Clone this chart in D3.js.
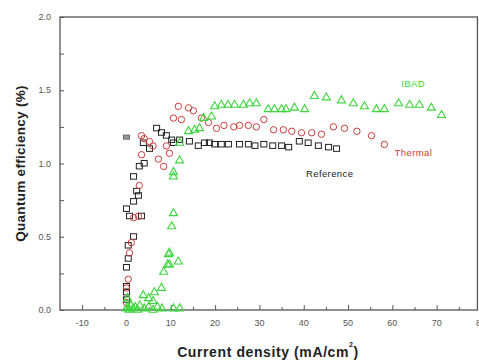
<!DOCTYPE html>
<html>
<head>
<meta charset="utf-8">
<script src="https://cdn.jsdelivr.net/npm/d3@7"></script>
<style>
  body { margin: 0; background: #fff; }
  svg { display: block; }
</style>
</head>
<body>
<script>
// Current density (mA/cm2) and quantum efficiency (%)
const refX = [0, 0, 0, 0, 0.4, 0.4, 1.6, 0.7, 3.4, 0, 1.6, 2.7, 2.3, 1.6, 2.9, 4, 5.2, 3.8, 6.8, 7.9, 9, 10.2,
  10.6, 12, 14.2, 16.2, 17.6, 18.7, 19.9, 21.4, 23, 25.5, 27.5, 29, 31, 33, 35, 36.6, 39, 41, 43.3, 45.6, 47.4];
const refY = [0.07, 0.12, 0.16, 0.29, 0.35, 0.44, 0.5, 0.64, 0.64, 0.69, 0.74, 0.78, 0.81, 0.91, 0.98, 1.0, 1.1, 1.14, 1.24, 1.21, 1.19, 1.16,
  1.14, 1.16, 1.15, 1.12, 1.14, 1.14, 1.13, 1.13, 1.13, 1.13, 1.13, 1.12, 1.13, 1.12, 1.12, 1.11, 1.15, 1.14, 1.12, 1.11, 1.10];
const refDouble = [0, 1.18];

const thermX = [0, 0, 0.4, 0.7, 1.1, 1.6, 2.7, 2.9, 3.4, 3.4, 4, 5.2, 6, 7.2, 8.4, 9, 9.7, 10.6, 11.7, 12.4, 14, 15.1,
  16.9, 18.5, 20.3, 22, 24.2, 25.5, 27.5, 29.3, 31, 33.2, 35.4, 37.3, 39.5, 41.8, 44, 46.7, 49.2, 52, 55.3, 58.2];
const thermY = [0.05, 0.15, 0.21, 0.39, 0.46, 0.63, 0.64, 0.85, 1.06, 1.19, 1.17, 1.15, 1.12, 1.03, 0.98, 1.12, 1.07, 1.31, 1.39, 1.30, 1.38, 1.36,
  1.31, 1.28, 1.24, 1.26, 1.25, 1.26, 1.26, 1.25, 1.30, 1.23, 1.23, 1.22, 1.21, 1.21, 1.20, 1.25, 1.24, 1.22, 1.19, 1.13];

const ibadX = [0, 0.3, 0.6, 1, 1.5, 2, 2.5, 3, 4, 5, 6, 7, 8, 0.2, 3.8, 5, 6.3, 7.9, 6, 10.6, 12, 8.4, 9.3, 9.7, 11.7,
  9.5, 9.7, 10.2, 10.6, 10.6, 10.6, 12, 12, 14, 15.4, 16.5, 17.4, 19.2, 19.9, 21.4, 22.9, 24.4, 26.4, 27.8, 29.3,
  32, 33.4, 35, 36, 37.9, 40.2, 42.4, 45.1, 48.5, 51.2, 53.7, 56.4, 58.2, 61.4, 63.9, 66.1, 68.8, 71.1];
const ibadY = [0.01, 0.02, 0.0, 0.03, 0.01, 0.02, 0.0, 0.03, 0.01, 0.02, 0.0, 0.02, 0.01, 0.08, 0.1, 0.08, 0.12, 0.15, 0.06, 0.01, 0.01, 0.26, 0.31, 0.39, 0.33,
  0.38, 0.31, 0.57, 0.66, 0.91, 0.94, 1.02, 1.14, 1.22, 1.23, 1.24, 1.31, 1.32, 1.39, 1.40, 1.40, 1.40, 1.40, 1.41, 1.41,
  1.37, 1.37, 1.37, 1.37, 1.38, 1.37, 1.46, 1.45, 1.43, 1.41, 1.39, 1.37, 1.37, 1.41, 1.40, 1.40, 1.38, 1.33];

const xTicks = [-10, 0, 10, 20, 30, 40, 50, 60, 70, 80];
const yTicks = [0, 0.5, 1.0, 1.5, 2.0];
const yTickLabels = ["0.0", "0.5", "1.0", "1.5", "2.0"];

const width = 479;
const height = 363;
const fontFamily = "Arial, \"Liberation Sans\", sans-serif";

const svg = d3.select("body").append("svg")
    .attr("width", width)
    .attr("height", height);

const x = d3.scaleLinear().domain([-15, 80]).range([60, 481]);
const y = d3.scaleLinear().domain([0, 2]).range([310, 17]);

// frame
svg.append("rect")
    .attr("x", x(-15))
    .attr("y", y(2))
    .attr("width", x(79.2) - x(-15))
    .attr("height", y(0) - y(2))
    .attr("fill", "none")
    .attr("stroke", "#555")
    .attr("stroke-width", 1.3);

// inward ticks
const xAxis = svg.append("g")
    .attr("transform", `translate(0,${y(0)})`)
    .call(d3.axisBottom(x).tickValues(d3.range(-10, 80, 5)).tickSize(-4).tickFormat(""));
xAxis.select(".domain").remove();
xAxis.selectAll("line").attr("stroke", "#555")
    .attr("y2", d => d % 10 === 0 ? -5 : -3);

svg.selectAll("text.xtick")
    .data(xTicks)
    .enter()
    .append("text")
    .classed("xtick", true)
    .attr("x", d => x(d))
    .attr("y", y(0) + 16)
    .attr("text-anchor", "middle")
    .attr("font-family", fontFamily)
    .attr("font-size", 9)
    .attr("fill", "#555")
    .text(d => d);

const yAxis = svg.append("g")
    .attr("transform", `translate(${x(-15)},0)`)
    .call(d3.axisLeft(y).tickValues(d3.range(0, 2.01, 0.25)).tickSize(-4).tickFormat(""));
yAxis.select(".domain").remove();
yAxis.selectAll("line").attr("stroke", "#555");

svg.selectAll("text.ytick")
    .data(yTicks)
    .enter()
    .append("text")
    .classed("ytick", true)
    .attr("x", 51)
    .attr("y", d => y(d) + 3)
    .attr("text-anchor", "end")
    .attr("font-family", fontFamily)
    .attr("font-size", 9)
    .attr("fill", "#555")
    .text((d, i) => yTickLabels[i]);

// axis titles
svg.append("text")
    .attr("transform", `translate(25,${(y(0) + y(2)) / 2}) rotate(-90)`)
    .attr("text-anchor", "middle")
    .attr("font-family", fontFamily)
    .attr("font-size", 13.5)
    .attr("font-weight", "bold")
    .attr("letter-spacing", 0.3)
    .attr("fill", "#222")
    .text("Quantum efficiency (%)");

const xTitle = svg.append("text")
    .attr("x", 268)
    .attr("y", 357)
    .attr("text-anchor", "middle")
    .attr("font-family", fontFamily)
    .attr("font-size", 14)
    .attr("font-weight", "bold")
    .attr("letter-spacing", 0.6)
    .attr("fill", "#222");
xTitle.append("tspan").text("Current density (mA/cm");
xTitle.append("tspan").attr("dy", -10).attr("font-size", 7).text("2");
xTitle.append("tspan").attr("dy", 10).text(")");

// series
const plot = svg.append("g");
const black = "#222";
const red = "#cc3b3b";
const green = "#3cd63c";

plot.append("g").selectAll("rect")
    .data(d3.zip(refX, refY))
    .enter()
    .append("rect")
    .attr("x", d => x(d[0]) - 3)
    .attr("y", d => y(d[1]) - 3)
    .attr("width", 6)
    .attr("height", 5.5)
    .attr("fill", "none")
    .attr("stroke", black)
    .attr("stroke-width", 1);

plot.append("g").selectAll("rect")
    .data([refDouble])
    .enter()
    .append("rect")
    .attr("x", d => x(d[0]) - 3)
    .attr("y", d => y(d[1]) - 2)
    .attr("width", 6)
    .attr("height", 4)
    .attr("fill", "#999")
    .attr("stroke", "#666");

plot.append("g").selectAll("circle")
    .data(d3.zip(thermX, thermY))
    .enter()
    .append("circle")
    .attr("cx", d => x(d[0]))
    .attr("cy", d => y(d[1]))
    .attr("r", 3.2)
    .attr("fill", "none")
    .attr("stroke", red)
    .attr("stroke-width", 1);

const tri = d3.symbol().type(d3.symbolTriangle).size(28);
plot.append("g").selectAll("path")
    .data(d3.zip(ibadX, ibadY))
    .enter()
    .append("path")
    .attr("transform", d => `translate(${x(d[0])},${y(d[1])})`)
    .attr("d", tri)
    .attr("fill", "none")
    .attr("stroke", green)
    .attr("stroke-width", 1.1);

// series labels
const labels = [
  { text: "IBAD", x: 62, y: 1.52, color: green },
  { text: "Thermal", x: 60.5, y: 1.05, color: red },
  { text: "Reference", x: 40.5, y: 0.91, color: black }
];
svg.selectAll("text.series")
    .data(labels)
    .enter()
    .append("text")
    .classed("series", true)
    .attr("x", d => x(d.x))
    .attr("y", d => y(d.y))
    .attr("font-family", fontFamily)
    .attr("font-size", 9.5)
    .attr("letter-spacing", 0.4)
    .attr("fill", d => d.color)
    .text(d => d.text);
</script>
</body>
</html>
